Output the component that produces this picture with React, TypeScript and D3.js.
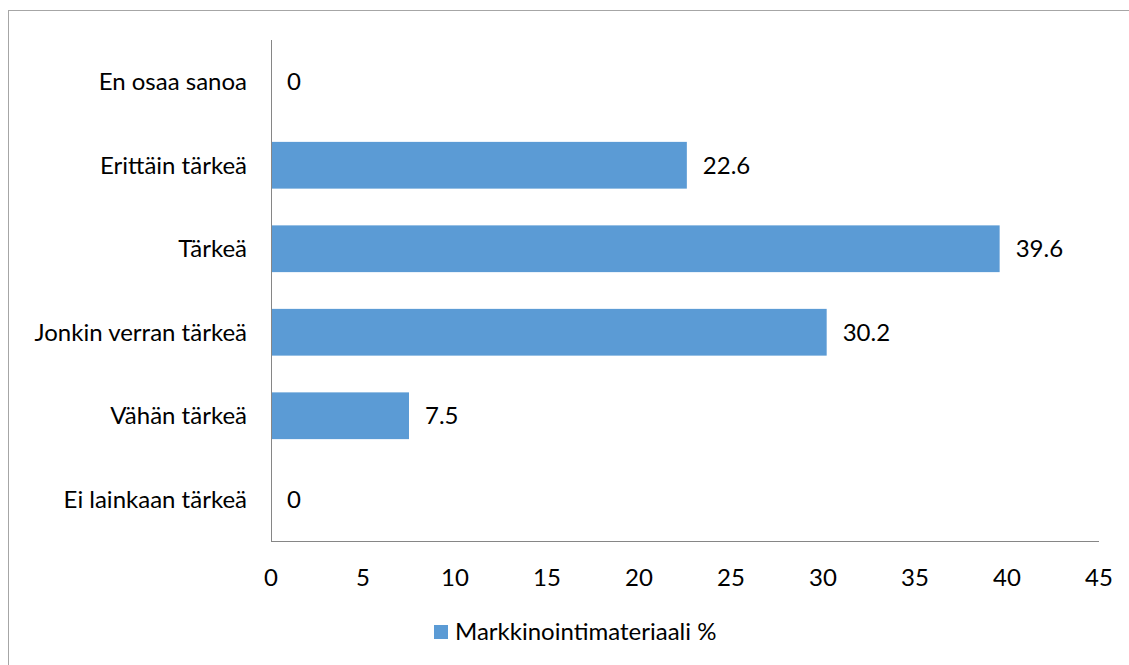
import React from "react";
import * as d3 from "d3";

const categories = ["En osaa sanoa", "Erittäin tärkeä", "Tärkeä", "Jonkin verran tärkeä", "Vähän tärkeä", "Ei lainkaan tärkeä"];
const values = [0, 22.6, 39.6, 30.2, 7.5, 0];
const ticks = [0, 5, 10, 15, 20, 25, 30, 35, 40, 45];
const seriesName = "Markkinointimateriaali %";

const W = 1129, H = 665;
const left = 271, right = 1099, top = 40, bottom = 541;
const font = "Lato, 'Open Sans', sans-serif";
const color = "#5B9BD5";
const fs = 24;

export default function App() {
  const x = d3.scaleLinear().domain([0, 45]).range([left, right]);
  const y = d3.scaleBand<string>().domain(categories).range([top, bottom]).paddingInner(0.44).paddingOuter(0.22);
  return (
    <svg width={W} height={H} style={{ position: "absolute", left: 0, top: 0, background: "#fff" }} fontFamily={font}>
      <rect x={8.5} y={10.5} width={W + 20} height={H + 20} fill="none" stroke="#A6A6A6" strokeWidth={1} />
      {categories.map((c, i) => (
        <g key={c}>
          <rect x={x(0)} y={y(c)!} width={x(values[i]) - x(0)} height={y.bandwidth()} fill={color} />
          <text x={x(values[i]) + 16} y={y(c)! + y.bandwidth() / 2} dy="0.35em" fontSize={fs} fill="#000">{values[i]}</text>
          <text x={247} y={y(c)! + y.bandwidth() / 2} dy="0.35em" fontSize={fs} textAnchor="end" fill="#000">{c}</text>
        </g>
      ))}
      <line x1={left + 0.5} x2={left + 0.5} y1={top} y2={bottom} stroke="#868686" strokeWidth={1} />
      <line x1={left} x2={right} y1={bottom + 0.5} y2={bottom + 0.5} stroke="#868686" strokeWidth={1} />
      {ticks.map(t => (
        <text key={t} x={x(t)} y={578} dy="0.35em" fontSize={fs} textAnchor="middle" fill="#000">{t}</text>
      ))}
      <rect x={434} y={625} width={14} height={14} fill={color} />
      <text x={455} y={632} dy="0.35em" fontSize={fs} fill="#000">{seriesName}</text>
    </svg>
  );
}
